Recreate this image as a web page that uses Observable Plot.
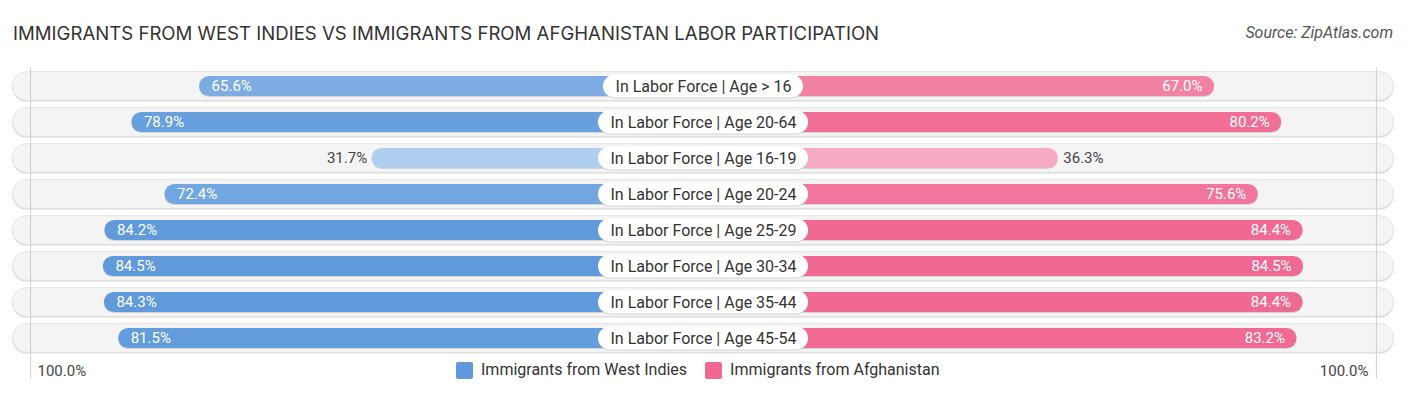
<!DOCTYPE html>
<html><head><meta charset="utf-8">
<script src="https://cdn.jsdelivr.net/npm/d3@7"></script>
<script src="https://cdn.jsdelivr.net/npm/@observablehq/plot@0.6"></script>
<style>
body{margin:0;background:#fff;}
#wrap{position:relative;width:1406px;height:395px;font-family:Roboto,sans-serif;overflow:hidden;}
#title{position:absolute;left:13px;top:22px;font-family:Inter,sans-serif;font-size:18.6px;line-height:22px;color:#333;white-space:nowrap;}
#source{position:absolute;right:13px;top:24px;font-family:Roboto,sans-serif;font-style:italic;font-size:16px;line-height:18px;color:#555;white-space:nowrap;}
#chart{position:absolute;left:0;top:0;}
#legend{position:absolute;left:456px;top:361px;display:flex;align-items:center;font-size:16px;line-height:18px;color:#333;white-space:nowrap;}
#legend .item{display:flex;align-items:center;margin-right:18px;}
#legend .sw{width:17px;height:17px;border-radius:2px;margin-right:8px;}
</style></head>
<body><div id="wrap"><div id="chart"></div><div id="title"></div><div id="source"></div><div id="legend"></div></div>
<script>
const titleText = "IMMIGRANTS FROM WEST INDIES VS IMMIGRANTS FROM AFGHANISTAN LABOR PARTICIPATION";
const sourceText = "Source: ZipAtlas.com";
const categories = [
  "In Labor Force | Age > 16",
  "In Labor Force | Age 20-64",
  "In Labor Force | Age 16-19",
  "In Labor Force | Age 20-24",
  "In Labor Force | Age 25-29",
  "In Labor Force | Age 30-34",
  "In Labor Force | Age 35-44",
  "In Labor Force | Age 45-54"
];
const westIndies = [65.6, 78.9, 31.7, 72.4, 84.2, 84.5, 84.3, 81.5];
const afghanistan = [67.0, 80.2, 36.3, 75.6, 84.4, 84.5, 84.4, 83.2];
const seriesNames = ["Immigrants from West Indies", "Immigrants from Afghanistan"];
const seriesColors = ["#5f99db", "#f06892"];
const axisTicks = [100];

document.getElementById("title").textContent = titleText;
document.getElementById("source").textContent = sourceText;

const W = 1406, H = 395;
const ppu = 5.09;          // pixels per percent
const K = 33.4;            // bar offset (hidden under centre label)
const half = (W / 2) / ppu;
const step = 36.15;
const mTop = 85.6 - step / 2;
const mBottom = H - (mTop + step * categories.length);

const rows = categories.map((c, i) => ({cat: c, wi: westIndies[i], af: afghanistan[i]}));
const tOf = v => Math.max(0, Math.min(1, (v - 30) / 55));
const blueI = d3.interpolateRgb("#b3d0f1", seriesColors[0]);
const pinkI = d3.interpolateRgb("#f8b3ca", seriesColors[1]);
const fmt = v => v.toFixed(1) + "%";

const ctx = document.createElement("canvas").getContext("2d");
ctx.font = "16px Roboto";
const labW = c => (ctx.measureText(c).width + 24) / ppu;

const R = 100 + K + 2.3;
const G = 100 + K - 1.2;
const inside = 40;

const plot = Plot.plot({
  width: W, height: H,
  marginTop: mTop, marginBottom: mBottom, marginLeft: 0, marginRight: 0,
  x: {domain: [-half, half], axis: null},
  y: {domain: categories, axis: null, padding: 0},
  color: {type: "identity"},
  style: {fontFamily: "Roboto, sans-serif", background: "transparent"},
  marks: [
    Plot.barX(rows, {y: "cat", x1: () => -R, x2: () => R, rx: 14.5, insetTop: 3.6, insetBottom: 3.6, fill: "#d6d6d6", dy: 1.2}),
    Plot.barX(rows, {y: "cat", x1: () => -R, x2: () => R, rx: 14.5, insetTop: 3.6, insetBottom: 3.6, fill: "#f4f4f4", stroke: "#dedede", strokeWidth: 0.8}),
    Plot.ruleX([-G, G], {stroke: "#cfcfcf", strokeWidth: 1, insetBottom: -22}),
    Plot.barX(rows, {y: "cat", x1: () => 0, x2: d => -(d.wi + K), rx: 10, insetTop: 7.9, insetBottom: 7.9, fill: "#9a9a9a", fillOpacity: 0.35, dy: 1}),
    Plot.barX(rows, {y: "cat", x1: () => 0, x2: d => d.af + K, rx: 10, insetTop: 7.9, insetBottom: 7.9, fill: "#9a9a9a", fillOpacity: 0.35, dy: 1}),
    Plot.barX(rows, {y: "cat", x1: () => 0, x2: d => -(d.wi + K), rx: 10, insetTop: 7.9, insetBottom: 7.9, fill: d => blueI(tOf(d.wi))}),
    Plot.barX(rows, {y: "cat", x1: () => 0, x2: d => d.af + K, rx: 10, insetTop: 7.9, insetBottom: 7.9, fill: d => pinkI(tOf(d.af))}),
    Plot.barX(rows, {y: "cat", x1: d => -labW(d.cat) / 2, x2: d => labW(d.cat) / 2, rx: 11.5, insetTop: 6.6, insetBottom: 6.6, fill: "#bdbdbd", fillOpacity: 0.6, dy: 1}),
    Plot.barX(rows, {y: "cat", x1: d => -labW(d.cat) / 2, x2: d => labW(d.cat) / 2, rx: 11.5, insetTop: 6.6, insetBottom: 6.6, fill: "#ffffff"}),
    Plot.text(rows, {y: "cat", x: () => 0, text: "cat", fontSize: 16, fill: "#333"}),
    Plot.text(rows.filter(d => d.wi >= inside), {y: "cat", x: d => -(d.wi + K), text: d => fmt(d.wi), textAnchor: "start", dx: 12, fill: "#ffffff", fontSize: 15}),
    Plot.text(rows.filter(d => d.wi < inside), {y: "cat", x: d => -(d.wi + K), text: d => fmt(d.wi), textAnchor: "end", dx: -5, fill: "#444", fontSize: 15}),
    Plot.text(rows.filter(d => d.af >= inside), {y: "cat", x: d => d.af + K, text: d => fmt(d.af), textAnchor: "end", dx: -12, fill: "#ffffff", fontSize: 15}),
    Plot.text(rows.filter(d => d.af < inside), {y: "cat", x: d => d.af + K, text: d => fmt(d.af), textAnchor: "start", dx: 5, fill: "#444", fontSize: 15}),
    Plot.text(axisTicks, {x: d => -(d + K), text: d => d.toFixed(1) + "%", frameAnchor: "bottom", lineAnchor: "middle", dy: 14, textAnchor: "start", dx: 13, fill: "#444", fontSize: 15}),
    Plot.text(axisTicks, {x: d => d + K, text: d => d.toFixed(1) + "%", frameAnchor: "bottom", lineAnchor: "middle", dy: 14, textAnchor: "end", dx: -14, fill: "#444", fontSize: 15})
  ]
});
document.getElementById("chart").appendChild(plot);

const legend = d3.select("#legend");
seriesNames.forEach((n, i) => {
  const it = legend.append("div").attr("class", "item");
  it.append("div").attr("class", "sw").style("background", seriesColors[i]);
  it.append("span").text(n);
});
</script>
</body></html>
